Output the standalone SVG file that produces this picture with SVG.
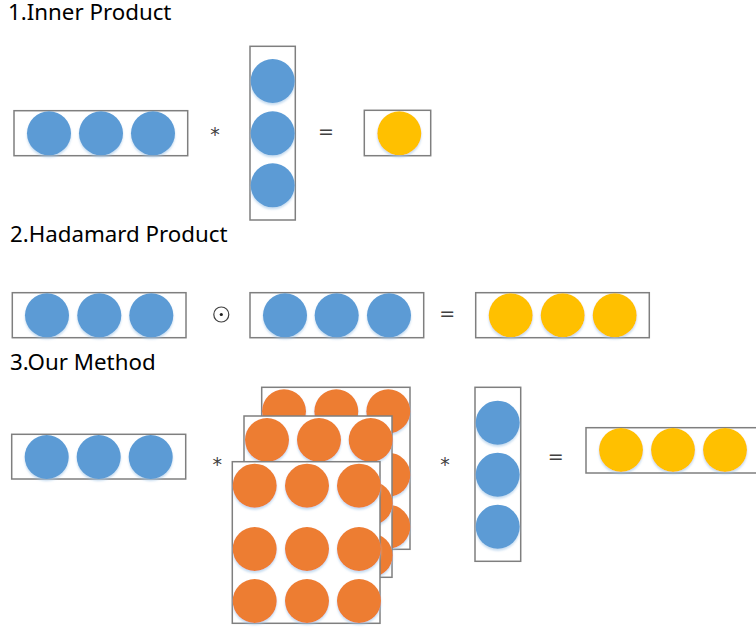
<svg xmlns="http://www.w3.org/2000/svg" width="756" height="631" viewBox="0 0 756 631">
<style>
.box{fill:#fff;stroke:#7f7f7f;stroke-width:1.5}
.b{fill:#5b9bd5}
.o{fill:#ed7d31}
.y{fill:#ffc000}
.title{font-family:"Noto Sans","Open Sans","Liberation Sans",sans-serif;font-size:22.3px;fill:#000}
.op{font-family:"DejaVu Sans","Liberation Sans",sans-serif;font-size:19px;fill:#404040;text-anchor:middle}
</style>
<defs>
<filter id="sh" x="-20%" y="-20%" width="140%" height="150%">
<feGaussianBlur in="SourceAlpha" stdDeviation="1.2" result="b"/>
<feOffset dy="1.5" result="o"/>
<feFlood flood-color="#9dc3e6" flood-opacity="0.6"/>
<feComposite in2="o" operator="in"/>
<feMerge><feMergeNode/><feMergeNode in="SourceGraphic"/></feMerge>
</filter>
</defs>

<text class="title" x="8" y="20">1.Inner Product</text>
<text class="title" x="10" y="242">2.Hadamard Product</text>
<text class="title" x="10" y="370">3.Our Method</text>

<!-- Section 1 -->
<g id="s1-row">
<rect class="box" x="14" y="110.7" width="173.7" height="45"/>
<g filter="url(#sh)"><circle class="b" cx="49" cy="133.3" r="22"/><circle class="b" cx="101" cy="133.3" r="22"/><circle class="b" cx="153" cy="133.3" r="22"/></g>
</g>
<text class="op" x="215" y="141">*</text>
<g id="s1-col">
<rect class="box" x="250" y="46.3" width="45.3" height="173.7"/>
<g filter="url(#sh)"><circle class="b" cx="272.7" cy="81" r="22"/><circle class="b" cx="272.7" cy="133.3" r="22"/><circle class="b" cx="272.7" cy="185.3" r="22"/></g>
</g>
<text class="op" x="326" y="137.5">=</text>
<g id="s1-res">
<rect class="box" x="364.3" y="110.3" width="66.4" height="45.4"/>
<g filter="url(#sh)"><circle class="y" cx="399.3" cy="133.3" r="22"/></g>
</g>

<!-- Section 2 -->
<g id="s2-a">
<rect class="box" x="12.3" y="292.7" width="173.7" height="45"/>
<g filter="url(#sh)"><circle class="b" cx="47" cy="315.3" r="22"/><circle class="b" cx="99.3" cy="315.3" r="22"/><circle class="b" cx="151.3" cy="315.3" r="22"/></g>
</g>
<g id="s2-odot">
<circle cx="221.3" cy="314.5" r="7.5" fill="none" stroke="#404040" stroke-width="1.2"/>
<circle cx="221.3" cy="314.5" r="1.6" fill="#202020"/>
</g>
<g id="s2-b">
<rect class="box" x="250" y="292.7" width="173.7" height="45"/>
<g filter="url(#sh)"><circle class="b" cx="285" cy="315.3" r="22"/><circle class="b" cx="336.7" cy="315.3" r="22"/><circle class="b" cx="389" cy="315.3" r="22"/></g>
</g>
<text class="op" x="447.3" y="320">=</text>
<g id="s2-res">
<rect class="box" x="475.7" y="292.7" width="173.6" height="45"/>
<g filter="url(#sh)"><circle class="y" cx="510.7" cy="315.3" r="22"/><circle class="y" cx="562.7" cy="315.3" r="22"/><circle class="y" cx="614.7" cy="315.3" r="22"/></g>
</g>

<!-- Section 3 -->
<g id="s3-row">
<rect class="box" x="11.7" y="434.3" width="174" height="44.7"/>
<g filter="url(#sh)"><circle class="b" cx="46.7" cy="457" r="22"/><circle class="b" cx="98.7" cy="457" r="22"/><circle class="b" cx="150.7" cy="457" r="22"/></g>
</g>
<text class="op" x="217.3" y="471">*</text>

<g id="s3-back">
<rect class="box" x="261.7" y="387.3" width="148.3" height="162"/>
<g filter="url(#sh)">
<circle class="o" cx="284" cy="411.3" r="22"/><circle class="o" cx="336.3" cy="411.3" r="22"/><circle class="o" cx="388.3" cy="411.3" r="22"/>
<circle class="o" cx="284" cy="474.7" r="22"/><circle class="o" cx="336.3" cy="474.7" r="22"/><circle class="o" cx="388.3" cy="474.7" r="22"/>
<circle class="o" cx="284" cy="526.7" r="22"/><circle class="o" cx="336.3" cy="526.7" r="22"/><circle class="o" cx="388.3" cy="526.7" r="22"/>
</g>
</g>
<g id="s3-mid">
<rect class="box" x="244" y="416" width="148" height="161.3"/>
<g filter="url(#sh)">
<circle class="o" cx="267" cy="440" r="22"/><circle class="o" cx="319" cy="440" r="22"/><circle class="o" cx="370.7" cy="440" r="22"/>
<circle class="o" cx="267" cy="503.3" r="22"/><circle class="o" cx="319" cy="503.3" r="22"/><circle class="o" cx="370.7" cy="503.3" r="22"/>
<circle class="o" cx="267" cy="555.3" r="22"/><circle class="o" cx="319" cy="555.3" r="22"/><circle class="o" cx="370.7" cy="555.3" r="22"/>
</g>
</g>
<g id="s3-front">
<rect class="box" x="232.3" y="461.7" width="147.7" height="161.6"/>
<g filter="url(#sh)">
<circle class="o" cx="254.7" cy="485.7" r="22"/><circle class="o" cx="307" cy="485.7" r="22"/><circle class="o" cx="359" cy="485.7" r="22"/>
<circle class="o" cx="254.7" cy="549" r="22"/><circle class="o" cx="307" cy="549" r="22"/><circle class="o" cx="359" cy="549" r="22"/>
<circle class="o" cx="254.7" cy="601" r="22"/><circle class="o" cx="307" cy="601" r="22"/><circle class="o" cx="359" cy="601" r="22"/>
</g>
</g>
<text class="op" x="445" y="471">*</text>
<g id="s3-col">
<rect class="box" x="475" y="387.3" width="45.7" height="174"/>
<g filter="url(#sh)"><circle class="b" cx="497.7" cy="422.7" r="22"/><circle class="b" cx="497.7" cy="474.7" r="22"/><circle class="b" cx="497.7" cy="526.7" r="22"/></g>
</g>
<text class="op" x="555.7" y="462.5">=</text>
<g id="s3-res">
<rect class="box" x="586" y="427.7" width="180" height="45.3"/>
<g filter="url(#sh)"><circle class="y" cx="621" cy="450" r="22"/><circle class="y" cx="673" cy="450" r="22"/><circle class="y" cx="725" cy="450" r="22"/></g>
</g>
</svg>
